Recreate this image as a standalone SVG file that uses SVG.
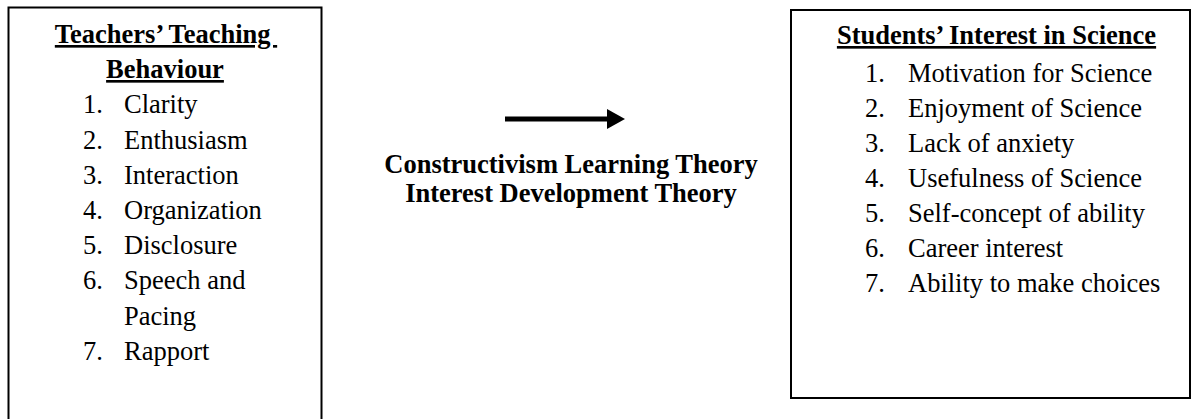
<svg xmlns="http://www.w3.org/2000/svg" width="1196" height="419" viewBox="0 0 1196 419">
<defs>
<style>
.box{fill:#fff;stroke:#000;stroke-width:2}
.t{font-family:"Liberation Serif","Times New Roman",serif;font-size:26.5px;fill:#000}
.b{font-weight:bold}
.u{text-decoration:underline}
.m{text-anchor:middle}
</style>
<marker id="ah" markerWidth="4" markerHeight="4" refX="0" refY="2" orient="auto" markerUnits="strokeWidth">
<path d="M0,0 L3.6,2 L0,4 Z" fill="#000"/>
</marker>
</defs>
<rect width="1196" height="419" fill="#fff"/>
<g id="node-teachers">
<rect class="box" x="8.5" y="7.5" width="313" height="420"/>
<text class="t b u m" x="166" y="43" xml:space="preserve">Teachers’ Teaching </text>
<text class="t b u m" x="165" y="78">Behaviour</text>
<text class="t" x="83" y="113.3">1.</text><text class="t" x="124" y="113.3">Clarity</text>
<text class="t" x="83" y="148.5">2.</text><text class="t" x="124" y="148.5">Enthusiasm</text>
<text class="t" x="83" y="183.7">3.</text><text class="t" x="124" y="183.7">Interaction</text>
<text class="t" x="83" y="218.9">4.</text><text class="t" x="124" y="218.9">Organization</text>
<text class="t" x="83" y="254.1">5.</text><text class="t" x="124" y="254.1">Disclosure</text>
<text class="t" x="83" y="289.3">6.</text><text class="t" x="124" y="289.3">Speech and</text>
<text class="t" x="124" y="324.5">Pacing</text>
<text class="t" x="83" y="359.7">7.</text><text class="t" x="124" y="359.7">Rapport</text>
</g>
<g id="node-theories">
<text class="t b m" x="571" y="173">Constructivism Learning Theory</text>
<text class="t b m" x="571" y="202">Interest Development Theory</text>
</g>
<g id="node-students">
<rect class="box" x="791" y="10" width="399" height="388"/>
<text class="t b u m" x="996.5" y="44">Students’ Interest in Science</text>
<text class="t" x="865" y="82">1.</text><text class="t" x="908" y="82">Motivation for Science</text>
<text class="t" x="865" y="117">2.</text><text class="t" x="908" y="117">Enjoyment of Science</text>
<text class="t" x="865" y="152">3.</text><text class="t" x="908" y="152">Lack of anxiety</text>
<text class="t" x="865" y="187">4.</text><text class="t" x="908" y="187">Usefulness of Science</text>
<text class="t" x="865" y="222">5.</text><text class="t" x="908" y="222">Self-concept of ability</text>
<text class="t" x="865" y="257">6.</text><text class="t" x="908" y="257">Career interest</text>
<text class="t" x="865" y="292">7.</text><text class="t" x="908" y="292">Ability to make choices</text>
</g>
<g id="connectors">
<path d="M505,119 H607" stroke="#000" stroke-width="5" fill="none" marker-end="url(#ah)"/>
</g>
</svg>
